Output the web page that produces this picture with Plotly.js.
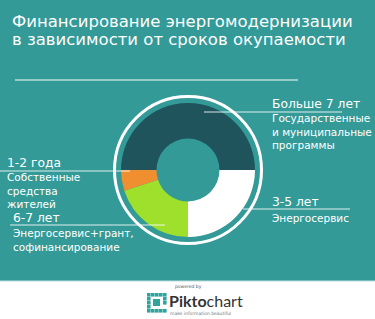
<!DOCTYPE html>
<html><head><meta charset="utf-8">
<script src="https://cdn.plot.ly/plotly-3.0.1.min.js"></script>
<style>html,body{margin:0;padding:0;background:#339a98;}#chart{width:375px;height:319px;}</style>
</head><body><div id="chart"></div>
<script>
const categories = ["Больше 7 лет", "3-5 лет", "6-7 лет", "1-2 года"];
const descriptions = [["Государственные", "и муниципальные", "программы"], ["Энергосервис"], ["Энергосервис+грант,", "софинансирование"], ["Собственные", "средства", "жителей"]];
const values = [50, 25, 20, 5];
const sliceColors = ["#1f545c", "#ffffff", "#9ee02c", "#ef8f2f"];
const titleLines = ["Финансирование энергомодернизации", "в зависимости от сроков окупаемости"];

const W = 375, H = 319;
const px = x => x / W;
const py = y => 1 - y / H;
const FONT = "DejaVu Sans, Verdana, sans-serif";

const cx = 188, cy = 170, r = 67;
const trace = {
  type: "pie",
  labels: categories,
  values: values,
  sort: false,
  direction: "clockwise",
  rotation: -90,
  hole: 0.47,
  textinfo: "none",
  hoverinfo: "label+percent",
  marker: {colors: sliceColors, line: {width: 0}},
  domain: {x: [px(cx - r), px(cx + r)], y: [py(cy + r), py(cy - r)]},
  showlegend: false
};

const ann = [];
function txt(t, x, y, size, color, font, anchor) {
  ann.push({text: t, x: px(x), y: py(y), xref: "paper", yref: "paper", xanchor: anchor || "left", yanchor: "middle",
    showarrow: false, align: "left", borderpad: 0, font: {size: size, color: color || "#ffffff", family: font || FONT}});
}
function block(idx, x, yHead, yDescCenter) {
  txt(categories[idx], x, yHead, 12.3);
  txt(descriptions[idx].join("<br>"), x, yDescCenter, 10.5);
}
txt(titleLines[0], 11, 21, 16.5);
txt(titleLines[1], 11, 40, 16.5);

block(0, 271, 104, 132);
block(1, 271, 202, 218);
block(3, 6, 163, 190);
block(2, 12, 218, 239.5);

// footer
txt("powered by", 188, 286, 4.5, "#555555", FONT, "center");
ann.push({text: "<b>Pikto</b>chart", x: px(168), y: py(300), xref: "paper", yref: "paper", xanchor: "left", yanchor: "middle",
  showarrow: false, borderpad: 0, font: {size: 16, color: "#333333", family: "Lato, sans-serif"}});
txt("make information beautiful", 169, 313, 4.5, "#777777", FONT);

const shapes = [];
function line(x0, y0, x1, y1, w, c) {
  shapes.push({type: "line", xref: "paper", yref: "paper", x0: px(x0), y0: py(y0), x1: px(x1), y1: py(y1),
    line: {color: c || "rgba(255,255,255,0.85)", width: w || 1}});
}
shapes.push({type: "rect", xref: "paper", yref: "paper", x0: 0, x1: 1, y0: 0, y1: py(281), fillcolor: "#ffffff", line: {width: 0}, layer: "below"});
line(0, 281, W, 281, 1, "#bfe0df");
line(15, 80, 298, 80, 1.2, "#ffffff");
const R = 73.5;
shapes.push({type: "circle", xref: "paper", yref: "paper", x0: px(cx - R), x1: px(cx + R), y0: py(cy + R), y1: py(cy - R),
  line: {color: "#ffffff", width: 3}, fillcolor: "rgba(0,0,0,0)"});
line(204, 112, 342, 112);
line(243, 209, 350, 209);
line(0, 171, 130, 171);
line(10, 225, 165, 225);
const cell = 3.6, lx = 147, ly = 293;
for (let i = 0; i < 5; i++) for (let j = 0; j < 5; j++) {
  const edge = i === 0 || j === 0 || i === 4 || j === 4;
  if (!edge) continue;
  if (i === 4 && j === 3) continue;
  shapes.push({type: "rect", xref: "paper", yref: "paper", x0: px(lx + i * 4), x1: px(lx + i * 4 + cell), y0: py(ly + j * 4 + cell), y1: py(ly + j * 4), fillcolor: "#2fa39c", line: {width: 0}});
}
shapes.push({type: "rect", xref: "paper", yref: "paper", x0: px(lx + 6), x1: px(lx + 13), y0: py(ly + 13), y1: py(ly + 6), fillcolor: "#2fa39c", line: {width: 0}});

Plotly.newPlot("chart", [trace], {
  width: W, height: H, margin: {l: 0, r: 0, t: 0, b: 0},
  paper_bgcolor: "#339a98", plot_bgcolor: "#339a98",
  annotations: ann, shapes: shapes, showlegend: false
}, {displayModeBar: false, staticPlot: true});
</script></body></html>
